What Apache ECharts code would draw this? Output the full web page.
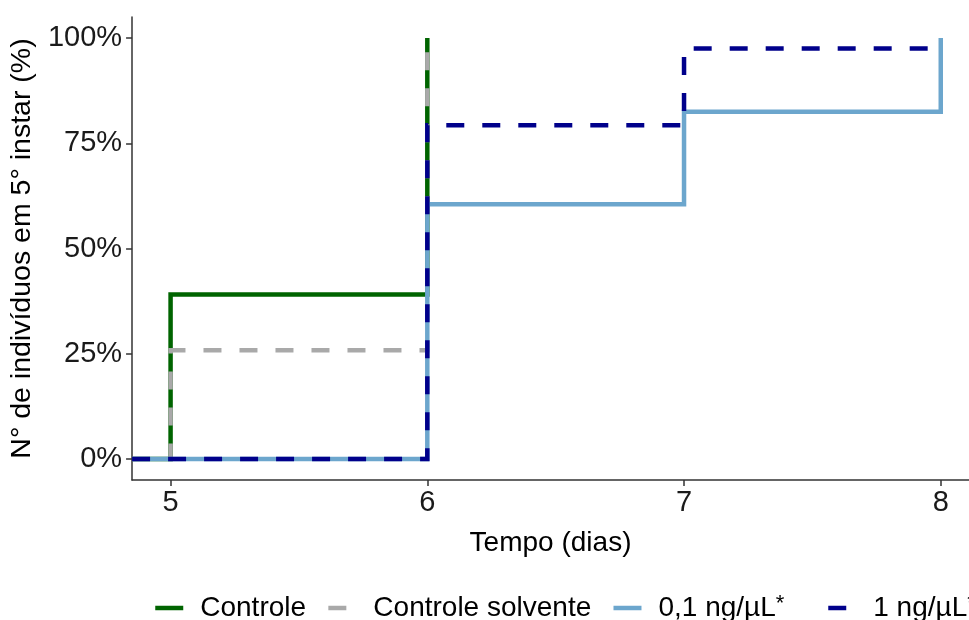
<!DOCTYPE html>
<html>
<head>
<meta charset="utf-8">
<script src="https://cdn.jsdelivr.net/npm/echarts@6/dist/echarts.min.js"></script>
<style>
  html, body { margin: 0; padding: 0; background: #ffffff; }
  #chart { width: 969px; height: 620px; }
</style>
</head>
<body>
<div id="chart"></div>
<script>
// Cumulative % of individuals reaching the 5th instar, per treatment (step curves)
const seriesNames = ['Controle', 'Controle solvente', '0,1 ng/µL*', '1 ng/µL*'];
const startDay = 4.85;
const controleDays = [startDay, 5, 6];
const controleValues = [0, 39.1, 100];
const solventeDays = [startDay, 5, 6];
const solventeValues = [0, 25.8, 100];
const dose01Days = [startDay, 6, 7, 8];
const dose01Values = [0, 60.5, 82.5, 100];
const dose1Days = [startDay, 6, 7, 8];
const dose1Values = [0, 79.3, 97.5, 97.5];
const xTicks = [5, 6, 7, 8];
const yTicks = [0, 25, 50, 75, 100];

const FONT = '"Liberation Sans", Arial, sans-serif';
const colors = ['#006400', '#A9A9A9', '#6CA6CD', '#00008B'];
const dashed = [false, true, false, true];

const pairs = (xs, ys) => xs.map((x, i) => [x, ys[i]]);
const dataSets = [
  pairs(controleDays, controleValues),
  pairs(solventeDays, solventeValues),
  pairs(dose01Days, dose01Values),
  pairs(dose1Days, dose1Values)
];

// shared legend look; the last key sits a bit further right
const legendBase = {
  top: 588,
  width: 1400,
  orient: 'horizontal',
  itemWidth: 28,
  itemHeight: 14,
  itemGap: 20,
  itemStyle: { opacity: 0 },
  lineStyle: { opacity: 1, width: 4.5 },
  formatter: name => name.endsWith('*') ? name.slice(0, -1) + '{sup|*}' : name,
  textStyle: {
    fontSize: 28,
    color: '#000',
    fontFamily: FONT,
    padding: [0, 0, 0, 12],
    rich: {
      sup: { fontSize: 22, verticalAlign: 'top', padding: [0, 0, 8, 0], fontFamily: FONT, color: '#000' }
    }
  }
};

const chart = echarts.init(document.getElementById('chart'), null, { renderer: 'canvas' });

chart.setOption({
  animation: false,
  backgroundColor: '#ffffff',
  textStyle: { fontFamily: FONT },
  grid: { left: 131, top: 17, right: 0, bottom: 140, containLabel: false },
  xAxis: {
    type: 'value',
    min: 4.85,
    max: 8.11,
    name: 'Tempo (dias)',
    nameLocation: 'middle',
    nameGap: 49,
    nameTextStyle: { fontSize: 28, color: '#000', fontFamily: FONT },
    splitLine: { show: false },
    axisLine: { show: true, onZero: false, lineStyle: { color: '#333', width: 1.5 } },
    axisTick: { show: true, length: 6, customValues: xTicks, lineStyle: { color: '#333', width: 1.5 } },
    axisLabel: { customValues: xTicks, fontSize: 29, color: '#1a1a1a', margin: 8, fontFamily: FONT }
  },
  yAxis: {
    type: 'value',
    min: -5,
    max: 105,
    name: 'N° de indivíduos em 5° instar (%)',
    nameLocation: 'middle',
    nameRotate: 90,
    nameGap: 87,
    nameTextStyle: { fontSize: 28.5, color: '#000', fontFamily: FONT },
    splitLine: { show: false },
    axisLine: { show: true, onZero: false, lineStyle: { color: '#333', width: 1.5 } },
    axisTick: { show: true, length: 6, customValues: yTicks, lineStyle: { color: '#333', width: 1.5 } },
    axisLabel: {
      customValues: yTicks,
      fontSize: 29,
      color: '#1a1a1a',
      margin: 10,
      fontFamily: FONT,
      formatter: v => v + '%'
    }
  },
  legend: [
    Object.assign({}, legendBase, { left: 148, data: seriesNames.slice(0, 3) }),
    Object.assign({}, legendBase, { left: 821, data: seriesNames.slice(3) })
  ],
  series: seriesNames.map((name, i) => ({
    name: name,
    type: 'line',
    step: 'end',
    data: dataSets[i],
    showSymbol: false,
    symbol: 'none',
    z: 2 + i,
    color: colors[i],
    lineStyle: {
      color: colors[i],
      width: 4.5,
      type: dashed[i] ? [18, 18] : 'solid',
      cap: 'butt',
      join: 'miter'
    }
  }))
});
</script>
</body>
</html>
